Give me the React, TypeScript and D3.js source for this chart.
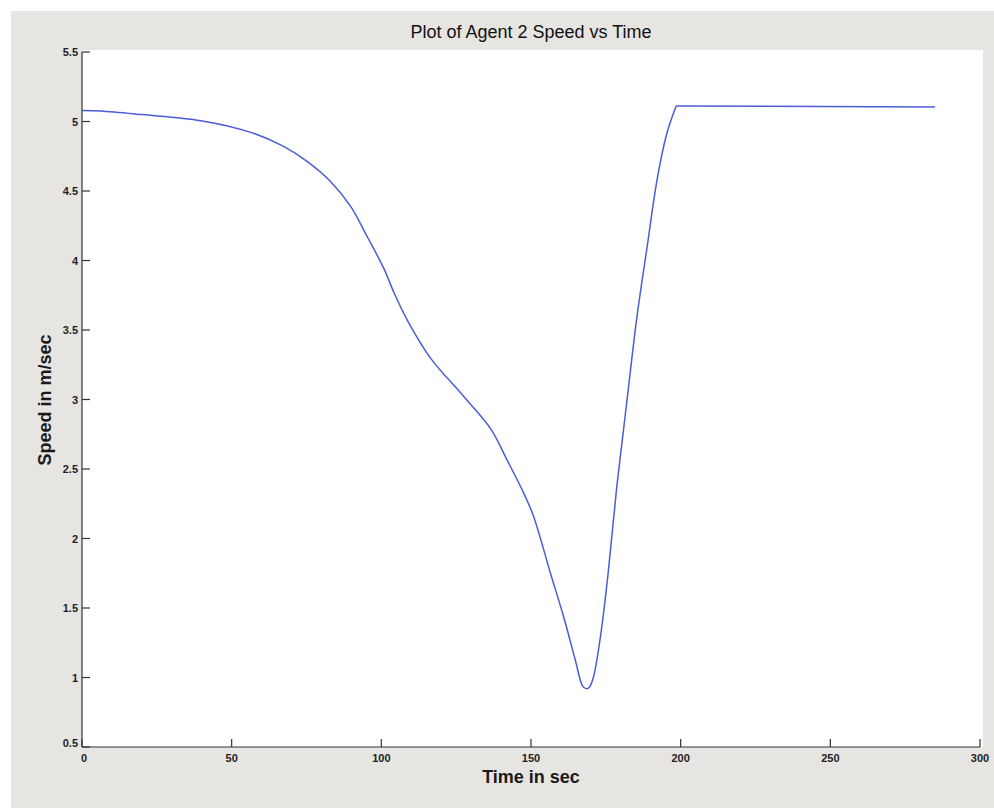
import React from "react";
import * as d3 from "d3";

const timeValues = [0, 6.3, 20, 39.7, 56.4, 67.5, 75.3, 83.1, 89.8, 95.3, 100.9, 104.2, 108.7, 116.5, 127.6, 136.5, 142.0, 147.6, 150.9, 156.5, 160.9, 164.8, 167.2, 168.4, 169.5, 170.9, 173.2, 175.4, 177.1, 178.7, 180.4, 182.1, 185.4, 188.8, 192.1, 195.4, 198.5, 285];
const speedValues = [5.08, 5.076, 5.05, 5.006, 4.922, 4.819, 4.711, 4.567, 4.387, 4.171, 3.94, 3.77, 3.57, 3.296, 3.02, 2.79, 2.565, 2.325, 2.157, 1.75, 1.437, 1.126, 0.94, 0.92, 0.93, 1.006, 1.294, 1.678, 2.037, 2.38, 2.69, 3.0, 3.596, 4.099, 4.579, 4.915, 5.111, 5.105];
const xTicks = [0, 50, 100, 150, 200, 250, 300];
const yTicks = [0.5, 1, 1.5, 2, 2.5, 3, 3.5, 4, 4.5, 5, 5.5];

const W = 994;
const H = 808;
const L = 82, R = 980, T = 52, B = 747;
const FONT = "'Liberation Sans', Arial, sans-serif";

export default function App() {
  const x = d3.scaleLinear().domain([0, 300]).range([L, R]);
  const y = d3.scaleLinear().domain([0.5, 5.5]).range([B, T]);
  const pts = timeValues.map((t, i) => [t, speedValues[i]] as [number, number]);
  const n = pts.length;
  const smooth = d3.line<[number, number]>().x(d => x(d[0])).y(d => y(d[1])).curve(d3.curveCatmullRom.alpha(0.5));
  const straight = d3.line<[number, number]>().x(d => x(d[0])).y(d => y(d[1]));

  return (
    <div style={{ position: "absolute", left: 0, top: 0 }}>
      <svg width={W} height={H} style={{ display: "block" }}>
        <rect x={0} y={0} width={W} height={H} fill="#ffffff" />
        <rect x={11} y={11} width={W - 11} height={H - 11} fill="#e7e5e2" />
        <rect x={L} y={T - 2} width={983 - L} height={B - T + 2} fill="#ffffff" />
        <text x={(L + R) / 2} y={38} textAnchor="middle" fontFamily={FONT} fontSize={18} fill="#111">
          Plot of Agent 2 Speed vs Time
        </text>
        <path d={smooth(pts.slice(0, n - 1)) || ""} fill="none" stroke="#4b5cd8" strokeWidth={1.5} />
        <path d={straight(pts.slice(n - 2)) || ""} fill="none" stroke="#4b5cd8" strokeWidth={1.5} />
        <line x1={L} x2={R} y1={B} y2={B} stroke="#333" strokeWidth={1.2} />
        <line x1={L} x2={L} y1={T} y2={B} stroke="#333" strokeWidth={1.2} />
        {xTicks.map(t => (
          <g key={"x" + t}>
            <line x1={x(t)} x2={x(t)} y1={B} y2={B - 8} stroke="#333" strokeWidth={1.2} />
            <text x={x(t) + (t === 0 ? 2 : 0)} y={762} textAnchor="middle" fontFamily={FONT} fontWeight="bold" fontSize={11} fill="#222">
              {t}
            </text>
          </g>
        ))}
        {yTicks.map(v => (
          <g key={"y" + v}>
            <line x1={L} x2={L + 8} y1={y(v)} y2={y(v)} stroke="#333" strokeWidth={1.2} />
            <text x={78} y={y(v) + (v === 0.5 ? 0 : 4)} textAnchor="end" fontFamily={FONT} fontWeight="bold" fontSize={11} fill="#222">
              {v}
            </text>
          </g>
        ))}
        <text x={(L + R) / 2} y={783} textAnchor="middle" fontFamily={FONT} fontWeight="bold" fontSize={18} fill="#1a1a1a">
          Time in sec
        </text>
        <text transform={`translate(51,400) rotate(-90)`} textAnchor="middle" fontFamily={FONT} fontWeight="bold" fontSize={18} fill="#1a1a1a">
          Speed in m/sec
        </text>
      </svg>
    </div>
  );
}
